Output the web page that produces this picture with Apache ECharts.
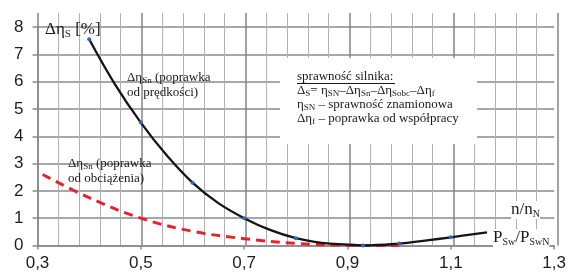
<!DOCTYPE html>
<html><head><meta charset="utf-8">
<script src="https://cdn.jsdelivr.net/npm/echarts@6/dist/echarts.min.js"></script>
<style>html,body{margin:0;padding:0;background:#fff}#c{width:569px;height:273px}</style>
</head><body><div id="c"></div>
<script>
// ---- data ----
const xTickLabels = ['0,3','0,5','0,7','0,9','1,1','1,3'];
const yTickLabels = ['0','1','2','3','4','5','6','7','8'];
// speed correction (black solid)
const speedX = [0.40,0.45,0.50,0.55,0.60,0.65,0.70,0.75,0.80,0.85,0.90,0.93,1.00,1.05,1.10,1.17];
const speedY = [7.55,5.90,4.50,3.30,2.30,1.55,1.00,0.57,0.27,0.10,0.03,0.00,0.07,0.18,0.30,0.48];
const speedMarked = [0.40,0.50,0.60,0.70,0.80,0.93,1.00,1.10];
// load correction (red dashed)
const loadX = [0.31,0.40,0.50,0.60,0.70,0.80,0.90,1.00];
const loadY = [2.60,1.75,1.00,0.52,0.25,0.08,0.01,0.00];

const SERIF = 'Liberation Serif';
const SANS = 'Liberation Sans';
const GRID_C = '#8a8a8a';

const chart = echarts.init(document.getElementById('c'), null, {renderer:'canvas'});

const speedData = speedX.map((x,i)=>({value:[x,speedY[i]], symbol: speedMarked.includes(x)?'circle':'none'}));
const loadData = loadX.map((x,i)=>[x,loadY[i]]);

const richSmall = {
  m:{fontFamily:SERIF,fontSize:13,lineHeight:15,fill:'#1a1a1a'},
  s:{fontFamily:SERIF,fontSize:9,fill:'#1a1a1a',verticalAlign:'bottom'}
};

chart.setOption({
  animation:false,
  backgroundColor:'#fff',
  grid:[
    {left:37.5,right:11.5,top:27,bottom:27.5,show:false},
    {left:37.5,right:11.5,top:13,bottom:27.5,show:false}
  ],
  xAxis:[
    {gridIndex:0,type:'value',min:0.3,max:1.3,interval:0.2,
     axisLine:{show:true,lineStyle:{color:GRID_C,width:1.5}},
     axisTick:{show:true,length:4,lineStyle:{color:GRID_C,width:1.5}},
     axisLabel:{fontSize:17,fontFamily:SANS,color:'#1e1e1e',margin:9,
       formatter:(v,i)=>xTickLabels[Math.round((v-0.3)/0.2)]},
     splitLine:{show:false}},
    {gridIndex:1,type:'value',min:0.3,max:1.3,interval:0.2,
     axisLine:{show:false},axisTick:{show:false},axisLabel:{show:false},
     minorTick:{show:false,splitNumber:5},
     splitLine:{show:true,lineStyle:{color:'#858585',width:1.5}},
     minorSplitLine:{show:true,lineStyle:{color:'#b0b0b0',width:1}}}
  ],
  yAxis:[
    {gridIndex:0,type:'value',min:0,max:8,interval:1,
     axisLine:{show:true,lineStyle:{color:GRID_C,width:1.5}},
     axisTick:{show:true,length:5,lineStyle:{color:GRID_C,width:1.5}},
     axisLabel:{fontSize:17,fontFamily:SANS,color:'#1e1e1e',margin:14,
       formatter:(v)=>yTickLabels[Math.round(v)]},
     splitLine:{show:true,lineStyle:{color:GRID_C,width:1.5}}},
    {gridIndex:1,type:'value',min:0,max:1,show:false,splitLine:{show:false}}
  ],
  series:[
    {type:'line',xAxisIndex:0,yAxisIndex:0,data:loadData,smooth:0.4,symbol:'none',
     lineStyle:{color:'#e8222b',width:3,type:[9,6]},z:3},
    {type:'line',xAxisIndex:0,yAxisIndex:0,data:speedData,smooth:0.4,symbolSize:4,
     itemStyle:{color:'#2f66c0'},lineStyle:{color:'#151515',width:2.3},z:4}
  ],
  graphic:[
    {type:'rect',shape:{x:280,y:58,width:197,height:86},style:{fill:'#fff'},z:5},
    {type:'text',x:45,y:20,z:10,style:{
      text:'{m|Δη}{s|S}{m| [%]}',
      rich:{m:{fontFamily:SERIF,fontSize:17,lineHeight:20,fill:'#1a1a1a'},
            s:{fontFamily:SERIF,fontSize:11,fill:'#1a1a1a',verticalAlign:'bottom'}}}},
    {type:'text',x:127,y:70.5,z:10,style:{
      text:'{m|Δη}{s|Sn}{m| (poprawka}\n{m|od prędkości)}',rich:richSmall}},
    {type:'text',x:68,y:156.5,z:10,style:{
      text:'{m|Δη}{s|Sn}{m| (poprawka}\n{m|od obciążenia)}',rich:richSmall}},
    {type:'text',x:297,y:70,z:10,style:{
      text:'{m|sprawność silnika:}\n{m|Δ}{s|S}{m|= η}{s|SN}{m|–Δη}{s|Sn}{m|–Δη}{s|Sobc}{m|–Δη}{s|f}\n{m|η}{s|SN}{m| – sprawność znamionowa}\n{m|Δη}{s|f}{m| – poprawka od współpracy}',
      rich:{m:{fontFamily:SERIF,fontSize:13,lineHeight:14,fill:'#1a1a1a'},
            s:{fontFamily:SERIF,fontSize:9,fill:'#1a1a1a',verticalAlign:'bottom'}}}},
    {type:'line',z:10,shape:{x1:297,y1:83.5,x2:395,y2:83.5},style:{stroke:'#1a1a1a',lineWidth:1}},
    {type:'text',x:540,y:201,z:10,style:{
      text:'{m|n/n}{s|N}',align:'right',backgroundColor:'#fff',
      rich:{m:{fontFamily:SERIF,fontSize:17,lineHeight:18,fill:'#1a1a1a'},
            s:{fontFamily:SERIF,fontSize:10,fill:'#1a1a1a',verticalAlign:'bottom'}}}},
    {type:'text',x:493,y:229,z:10,style:{
      text:'{m|P}{s|Sw}{m|/P}{s|SwN}',backgroundColor:'#fff',
      rich:{m:{fontFamily:SERIF,fontSize:17,lineHeight:18,fill:'#1a1a1a'},
            s:{fontFamily:SERIF,fontSize:10,fill:'#1a1a1a',verticalAlign:'bottom'}}}}
  ]
});
</script></body></html>
